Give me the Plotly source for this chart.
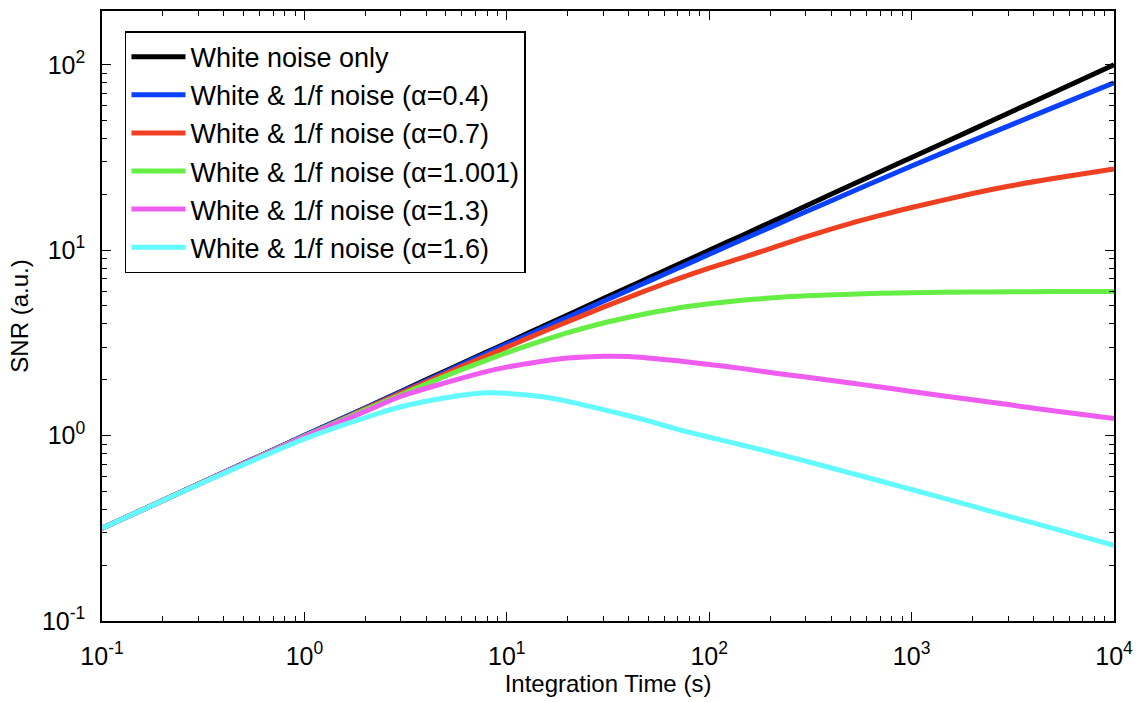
import plotly.graph_objects as go

# Integration time (s)
T = [0.1, 0.3, 1, 2, 3, 5, 8, 10, 15, 20, 30, 40, 50, 70, 100, 150, 200, 300, 500, 700, 1000, 2000, 3000, 5000, 10000]

snr_white = [0.316, 0.548, 1.0, 1.41, 1.73, 2.24, 2.83, 3.16, 3.87, 4.47, 5.48, 6.32, 7.07, 8.37, 10.0, 12.2, 14.1, 17.3, 22.4, 26.5, 31.6, 44.7, 54.8, 70.7, 100.0]
snr_a04 = [0.316, 0.548, 1.0, 1.41, 1.72, 2.21, 2.79, 3.11, 3.78, 4.35, 5.30, 6.09, 6.79, 7.99, 9.5, 11.56, 13.28, 16.11, 20.53, 24.08, 28.46, 39.0, 46.7, 58.7, 80.0]
snr_a07 = [0.316, 0.548, 0.99, 1.393, 1.694, 2.165, 2.70, 3.0, 3.62, 4.12, 4.93, 5.57, 6.12, 7.0, 8.0, 9.2, 10.2, 11.8, 13.95, 15.4, 17.0, 20.2, 22.1, 24.35, 27.4]
snr_a1001 = [0.316, 0.547, 0.99, 1.376, 1.66, 2.1, 2.56, 2.8, 3.25, 3.59, 4.05, 4.35, 4.57, 4.88, 5.14, 5.39, 5.52, 5.67, 5.79, 5.85, 5.9, 5.94, 5.96, 5.98, 5.99]
snr_a13 = [0.316, 0.546, 0.985, 1.35, 1.63, 1.93, 2.22, 2.34, 2.52, 2.62, 2.68, 2.67, 2.62, 2.53, 2.42, 2.29, 2.19, 2.07, 1.92, 1.83, 1.73, 1.56, 1.47, 1.36, 1.235]
snr_a16 = [0.316, 0.545, 0.96, 1.25, 1.43, 1.60, 1.70, 1.69, 1.62, 1.53, 1.38, 1.28, 1.20, 1.08, 0.98, 0.882, 0.816, 0.728, 0.628, 0.569, 0.512, 0.416, 0.368, 0.316, 0.256]

names = [
    "White noise only",
    "White & 1/f noise (α=0.4)",
    "White & 1/f noise (α=0.7)",
    "White & 1/f noise (α=1.001)",
    "White & 1/f noise (α=1.3)",
    "White & 1/f noise (α=1.6)",
]
series = [snr_white, snr_a04, snr_a07, snr_a1001, snr_a13, snr_a16]
colors = ["#000000", "#0a40ff", "#f04022", "#66ee44", "#ee5cf0", "#62faff"]

fig = go.Figure()
for i, (nm, ys, c) in enumerate(zip(names, series, colors)):
    fig.add_trace(go.Scatter(
        x=T, y=ys, name=nm, mode="lines",
        line=dict(color=c, width=5, shape="spline", smoothing=0.8),
        legendgroup=f"g{i}",
    ))

font_family = "Liberation Sans, Arial, Helvetica, sans-serif"
xt = [0.1, 1, 10, 100, 1000, 10000]
xtt = ["10<sup>-1</sup>", "10<sup>0</sup>", "10<sup>1</sup>", "10<sup>2</sup>", "10<sup>3</sup>", "10<sup>4</sup>"]
yt = [0.1, 1, 10, 100]
ytt = ["10<sup>-1</sup>", "10<sup>0</sup>", "10<sup>1</sup>", "10<sup>2</sup>"]

axis_common = dict(
    showline=True, linecolor="black", linewidth=1.5, mirror="ticks",
    ticks="inside", ticklen=9, tickwidth=1.2, tickcolor="black",
    showgrid=False, zeroline=False,
    tickfont=dict(family=font_family, size=25, color="black"),
    minor=dict(ticks="inside", ticklen=5, tickwidth=1, tickcolor="black", showgrid=False, dtick="D1"),
)

fig.update_xaxes(type="log", range=[-1, 4], tickvals=xt, ticktext=xtt,
                 title=dict(text="Integration Time (s)", font=dict(family=font_family, size=24, color="black"), standoff=6),
                 ticklabelstandoff=12, **axis_common)
fig.update_yaxes(type="log", range=[-1, 2.29], tickvals=yt, ticktext=ytt,
                 title=dict(text="SNR (a.u.)", font=dict(family=font_family, size=24, color="black"), standoff=6),
                 ticklabelstandoff=10, **axis_common)

fig.update_layout(
    width=1143, height=702,
    margin=dict(l=102, r=29, t=9, b=79),
    paper_bgcolor="white", plot_bgcolor="white",
    font=dict(family=font_family, color="black"),
    legend=dict(
        x=0.0227, y=0.967, xanchor="left", yanchor="top",
        bgcolor="white", bordercolor="black", borderwidth=1.5,
        font=dict(family=font_family, size=27, color="black"),
        itemwidth=54, tracegroupgap=0,
    ),
)

fig.write_html("out.html")
